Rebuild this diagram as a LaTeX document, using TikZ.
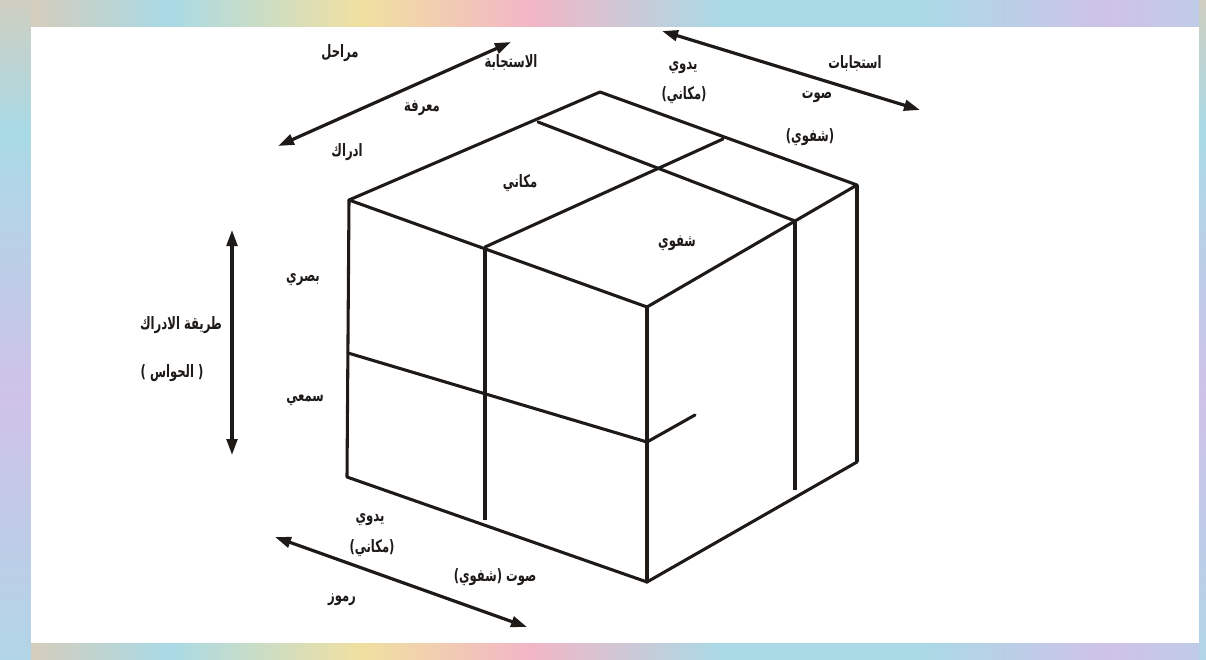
\documentclass[tikz,border=0pt]{standalone}
\usepackage{fontspec}
\usepackage{xcolor}
\usepackage{tikz}
\usetikzlibrary{arrows.meta}
\TeXXeTstate=1
\newfontfamily\arabicfont[Script=Arabic,FakeStretch=0.68]{DejaVu Sans}
\definecolor{framepink}{HTML}{F2B6C6}
\definecolor{framepeach}{HTML}{F5C49C}
\definecolor{frameyellow}{HTML}{F0E0A0}
\definecolor{framecyan}{HTML}{A9DAE6}
\definecolor{framelilac}{HTML}{CFC2E8}
\definecolor{inkline}{HTML}{1E1A18}
\pgfdeclarehorizontalshading{framebandh}{100bp}{color(0bp)=(framepink); color(7bp)=(framepeach);
  color(14bp)=(framelilac); color(22bp)=(framepeach); color(32bp)=(framecyan); color(40bp)=(frameyellow);
  color(47bp)=(framepink); color(55bp)=(framecyan); color(63bp)=(framecyan); color(71bp)=(framelilac);
  color(80bp)=(framecyan); color(90bp)=(framepeach); color(100bp)=(framepink)}
\pgfdeclareverticalshading{framebandv}{100bp}{color(0bp)=(framelilac); color(20bp)=(framecyan);
  color(45bp)=(framelilac); color(65bp)=(framecyan); color(85bp)=(framepeach); color(100bp)=(framepink)}

\begin{document}
\begin{tikzpicture}[x=0.75pt,y=-0.75pt,
    cubeline/.style={inkline, line width=2.3pt, line join=round, line cap=round},
    cubethick/.style={inkline, line width=3pt},
    twoway/.style={inkline, line width=2.4pt, {Triangle[length=12pt,width=8pt]}-{Triangle[length=12pt,width=8pt]}},
    lbl/.style={inkline, font=\arabicfont\bfseries\fontsize{12.8}{15}\selectfont, inner sep=1pt}]
    \useasboundingbox (0,0) rectangle (1206,660);
    \shade[shading=framebandh] (0,0) rectangle (1206,660);
    \shade[shading=framebandv] (0,0) rectangle (31,660);
    \shade[shading=framebandv] (1199,0) rectangle (1206,660);
    \fill[white] (31,27) rectangle (1199,643);

    \coordinate (tl) at (349,200);
    \coordinate (tb) at (600,92);
    \coordinate (tr) at (857,185);
    \coordinate (tf) at (647,307);
    \coordinate (bl) at (347,477);
    \coordinate (bf) at (647,582);
    \coordinate (br) at (857,462);

    \draw[cubeline] (tl) -- (tb) -- (tr) -- (tf) -- cycle;
    \draw[cubeline] (tl) -- (bl) -- (bf) -- (br);
    \draw[cubeline] (tf) -- (bf);
    \draw[cubethick] (tr) -- (br);
    \draw[cubeline] (485,247) -- (723,139);
    \draw[cubeline] (538,122) -- (795,221);
    \draw[cubethick] (485,247) -- (485,520);
    \draw[cubethick] (795,221) -- (795,490);
    \draw[cubeline] (348,353) -- (647,442) -- (695,415);

    \coordinate (stageL) at (278,146);
    \coordinate (stageR) at (511,42);
    \coordinate (respL) at (662,31);
    \coordinate (respR) at (920,110);
    \coordinate (senseT) at (232,230);
    \coordinate (senseB) at (232,455);
    \coordinate (symL) at (275,537);
    \coordinate (symR) at (527,627);
    \draw[twoway] (stageL) -- (stageR);
    \draw[twoway] (respL) -- (respR);
    \draw[twoway] (senseT) -- (senseB);
    \draw[twoway] (symL) -- (symR);

    \node[lbl] (stages) at (340,53) {\beginR مراحل\endR};
    \node[lbl] (response) at (511,62) {\beginR الاستجابة\endR};
    \node[lbl] (knowing) at (422,108) {\beginR معرفة\endR};
    \node[lbl] (perceive) at (347,152) {\beginR ادراك\endR};
    \node[lbl] (manualT) at (683,68) {\beginR يدوي\endR};
    \node[lbl] (spatialT) at (684,95) {\beginR (مكاني)\endR};
    \node[lbl] (answers) at (855,63) {\beginR استجابات\endR};
    \node[lbl] (voiceT) at (817,97) {\beginR صوت\endR};
    \node[lbl] (oralT) at (810,137) {\beginR (شفوي)\endR};
    \node[lbl] (spatialF) at (520,183) {\beginR مكاني\endR};
    \node[lbl] (oralF) at (677,243) {\beginR شفوي\endR};
    \node[lbl] (visual) at (303,280) {\beginR بصري\endR};
    \node[lbl] (mode) at (181,325) {\beginR طريقة الادراك\endR};
    \node[lbl] (senses) at (172,373) {\beginR ( الحواس )\endR};
    \node[lbl] (aural) at (305,400) {\beginR سمعي\endR};
    \node[lbl] (manualB) at (370,520) {\beginR يدوي\endR};
    \node[lbl] (spatialB) at (372,548) {\beginR (مكاني)\endR};
    \node[lbl] (voiceB) at (495,577) {\beginR صوت (شفوي)\endR};
    \node[lbl] (symbols) at (342,600) {\beginR رموز\endR};
\end{tikzpicture}
\end{document}
